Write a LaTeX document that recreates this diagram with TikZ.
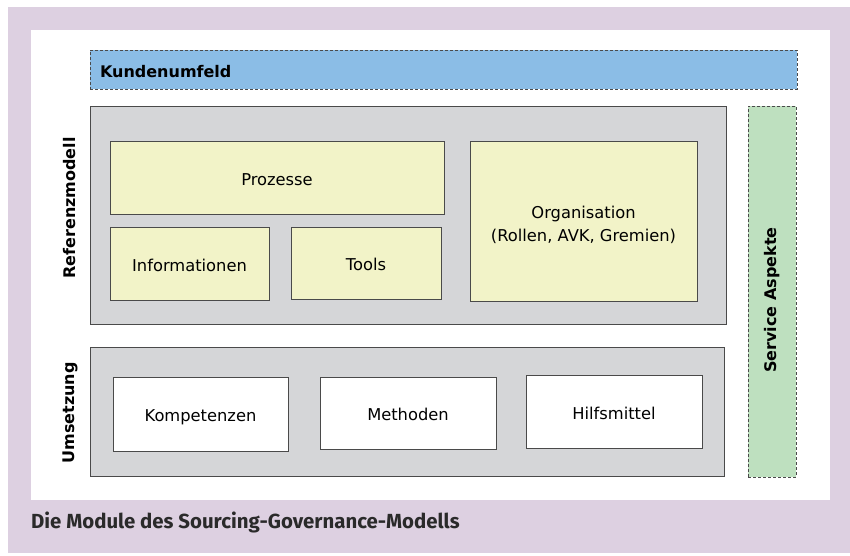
\documentclass[tikz,border=0pt]{standalone}
\usepackage{fontspec}
\setmainfont{DejaVu Sans}
\newfontfamily\captionfont{Fira Sans}
\definecolor{frameLilac}{HTML}{DDD0E1}
\definecolor{envBlue}{HTML}{8BBDE6}
\definecolor{serviceGreen}{HTML}{BEE0BF}
\definecolor{layerGray}{HTML}{D5D6D8}
\definecolor{moduleYellow}{HTML}{F2F3C8}
\definecolor{edgeGray}{HTML}{4A4A4A}
\definecolor{captionText}{HTML}{2A2A2A}
\usetikzlibrary{positioning}
\tikzset{
  every picture/.append style={font=\fontsize{16.3}{23}\selectfont},
  layer/.style={rectangle,draw=edgeGray,line width=0.9pt,fill=layerGray,inner sep=0pt},
  module/.style={rectangle,draw=edgeGray,line width=0.9pt,fill=moduleYellow,inner sep=0pt,align=center,text height=19pt,text depth=4pt},
  tool/.style={module,fill=white},
  aspect/.style={rectangle,draw=edgeGray,line width=0.9pt,dash pattern=on 3pt off 2pt,inner sep=0pt},
  sidelabel/.style={rotate=90,font=\fontsize{16}{19}\selectfont\bfseries},
}

\begin{document}
\begin{tikzpicture}[x=1pt,y=-1pt]
  \useasboundingbox (0,0) rectangle (850,555);
  % frame and panel
  \fill[frameLilac] (8,7) rectangle (850,553);
  \fill[white] (31,30) rectangle (830,500);

  % customer environment and service aspects
  \node[aspect, fill=envBlue, minimum width=707pt, minimum height=39pt,
        text width=687pt, align=left, text height=15pt, text depth=0pt,
        font=\fontsize{16}{19}\selectfont\bfseries]
        (kunden) at (443.5,69.5) {Kundenumfeld};
  \node[aspect, fill=serviceGreen, minimum width=48pt, minimum height=371pt] (service) at (772,291.5) {};
  \node[sidelabel] (serviceL) at (772,300) {Service Aspekte};

  % reference model
  \node[layer, minimum width=636pt, minimum height=218pt] (ref) at (408,215) {};
  \node[sidelabel] (refL) at (70,208) {Referenzmodell};
  \node[module, minimum width=334pt, minimum height=73pt] (proz) at (277,178) {Prozesse};
  \node[module, minimum width=159pt, minimum height=73pt] (info) at (189.5,263.5) {Informationen};
  \node[module, minimum width=150pt, minimum height=72pt] (tools) at (366,263) {Tools};
  \node[module, minimum width=227pt, minimum height=160pt, text height=45pt, text depth=3.5pt]
        (orga) at (583.5,221) {Organisation\\(Rollen, AVK, Gremien)};

  % implementation
  \node[layer, minimum width=634pt, minimum height=129pt] (ums) at (407,411.5) {};
  \node[sidelabel] (umsL) at (70,413) {Umsetzung};
  \node[tool, minimum width=175pt, minimum height=74pt] (komp) at (200.5,414) {Kompetenzen};
  \node[tool, minimum width=176pt, minimum height=72pt] (meth) at (408,413) {Methoden};
  \node[tool, minimum width=176pt, minimum height=73pt] (hilf) at (614,411.5) {Hilfsmittel};

  % caption
  \node[anchor=west, inner sep=0pt, text=captionText, font=\captionfont\bfseries\fontsize{20.4}{24}\selectfont]
        (caption) at (31,522) {Die Module des Sourcing-Governance-Modells};
\end{tikzpicture}
\end{document}
